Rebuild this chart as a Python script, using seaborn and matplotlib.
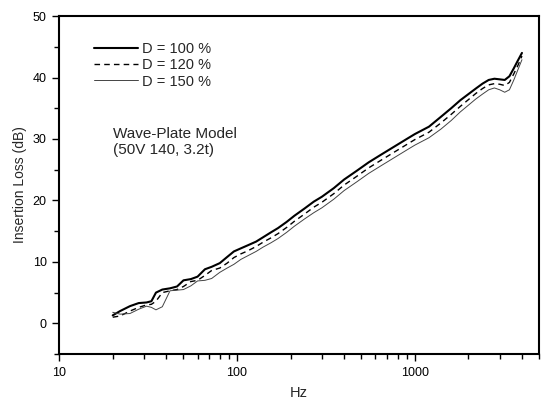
import numpy as np
import pandas as pd
import matplotlib
matplotlib.use("Agg")
import matplotlib.pyplot as plt
import matplotlib.ticker as mticker
import seaborn as sns

# Frequency axis (Hz)
freq = [20, 22, 25, 28, 31, 33, 35, 38, 42, 46, 50, 55, 60, 66, 72, 80, 88, 96,
        105, 115, 128, 140, 155, 170, 190, 210, 240, 270, 300, 350, 400, 470,
        550, 650, 750, 900, 1000, 1200, 1400, 1600, 1800, 2000, 2200, 2400,
        2600, 2800, 3000, 3200, 3400, 3600, 3800, 4000]

# Insertion loss (dB) for each plate spacing
loss_d100 = [1.3, 2.0, 2.8, 3.3, 3.4, 3.6, 5.0, 5.5, 5.7, 6.0, 7.0, 7.2, 7.6,
             8.8, 9.2, 9.8, 10.8, 11.7, 12.2, 12.7, 13.3, 14.0, 14.8, 15.5,
             16.5, 17.5, 18.7, 19.8, 20.6, 22.0, 23.4, 24.8, 26.2, 27.5, 28.6,
             30.0, 30.8, 32.0, 33.6, 35.0, 36.3, 37.3, 38.2, 39.0, 39.6, 39.8,
             39.7, 39.6, 40.2, 41.5, 42.8, 44.0]
loss_d120 = [1.0, 1.2, 2.0, 2.6, 3.0, 3.1, 3.6, 5.0, 5.3, 5.5, 6.0, 6.8, 7.0,
             7.8, 8.6, 9.0, 9.8, 10.7, 11.3, 11.8, 12.5, 13.2, 13.9, 14.6,
             15.6, 16.6, 17.8, 18.9, 19.7, 21.1, 22.5, 23.9, 25.3, 26.6, 27.7,
             29.1, 29.9, 31.1, 32.6, 34.0, 35.3, 36.4, 37.4, 38.2, 38.8, 39.0,
             38.9, 38.7, 39.2, 40.6, 42.0, 43.5]
loss_d150 = [1.8, 1.5, 1.6, 2.3, 2.8, 2.6, 2.2, 2.7, 5.3, 5.4, 5.5, 6.1, 6.9,
             7.0, 7.3, 8.3, 9.0, 9.6, 10.4, 11.0, 11.7, 12.4, 13.1, 13.8,
             14.8, 15.8, 17.0, 18.0, 18.8, 20.2, 21.6, 23.0, 24.4, 25.7, 26.8,
             28.2, 29.0, 30.2, 31.6, 33.0, 34.4, 35.5, 36.5, 37.3, 38.0, 38.3,
             38.0, 37.6, 38.0, 39.6, 41.3, 42.9]

labels = ["D = 100 %", "D = 120 %", "D = 150 %"]
series = [loss_d100, loss_d120, loss_d150]
styles = [dict(lw=1.5, ls="-", color="black"),
          dict(lw=1.0, ls=(0, (4, 3)), color="black"),
          dict(lw=0.7, ls="-", color="#444444")]

sns.set_theme(style="white")
plt.rcParams["font.family"] = ["Liberation Sans", "DejaVu Sans"]

fig = plt.figure(figsize=(5.43, 4.01), dpi=100)
ax = fig.add_axes([0.109, 0.117, 0.884, 0.843])

for lab, vals, st in zip(labels, series, styles):
    df = pd.DataFrame({"Hz": freq, "loss": vals})
    sns.lineplot(data=df, x="Hz", y="loss", ax=ax, label=lab,
                 color=st["color"], lw=st["lw"], linestyle=st["ls"])

ax.set_xscale("log")
ax.set_xlim(10, 5000)
ax.set_ylim(-5, 50)

ax.xaxis.set_major_locator(mticker.FixedLocator([10, 100, 1000]))
ax.xaxis.set_major_formatter(mticker.FixedFormatter(["10", "100", "1000"]))
ax.xaxis.set_minor_locator(mticker.LogLocator(base=10, subs=np.arange(2, 10)))
ax.xaxis.set_minor_formatter(mticker.NullFormatter())
ax.yaxis.set_major_locator(mticker.MultipleLocator(10))
ax.yaxis.set_minor_locator(mticker.MultipleLocator(5))

ax.tick_params(axis="both", which="major", direction="out", length=5,
               width=1.0, labelsize=9, color="black", labelcolor="black",
               bottom=True, left=True, top=False, right=False, pad=4)
ax.tick_params(axis="both", which="minor", direction="out", length=3.5,
               width=1.0, color="black", bottom=True, left=True,
               top=False, right=False)

for sp in ax.spines.values():
    sp.set_visible(True)
    sp.set_color("black")
    sp.set_linewidth(1.5)

ax.set_xlabel("Hz", fontsize=10.5, labelpad=5)
ax.set_ylabel("Insertion Loss (dB)", fontsize=10, labelpad=4)

leg = ax.legend(loc="upper left", bbox_to_anchor=(0.06, 0.94), frameon=False,
                fontsize=10.5, handlelength=3.0, handletextpad=0.3,
                labelspacing=0.15, borderaxespad=0)

ax.text(0.112, 0.672, "Wave-Plate Model\n(50V 140, 3.2t)",
        transform=ax.transAxes, fontsize=11, va="top", ha="left",
        linespacing=1.15)

fig.savefig("out.png", dpi=100, facecolor="white")
